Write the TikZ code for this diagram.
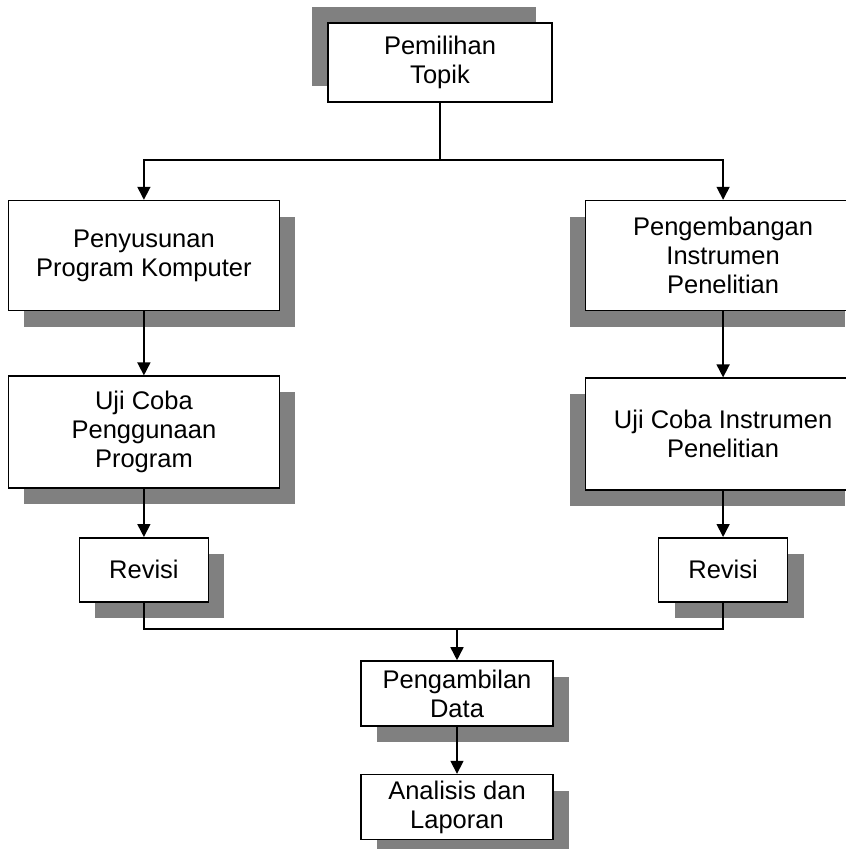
\documentclass[tikz,border=0pt]{standalone}
\usepackage{fontspec}
\setmainfont{Liberation Sans}
\usepackage{tikz}
\usetikzlibrary{arrows.meta, positioning, shadows}
\usepackage{xcolor}
\definecolor{abu}{HTML}{808080}

\begin{document}
\begin{tikzpicture}[
    tahap/.style={
        rectangle,
        draw=black,
        line width=1.6pt,
        fill=white,
        align=center,
        inner sep=2pt,
        font=\fontsize{25.5}{29}\selectfont
    },
    bayang kanan/.style={
        general shadow={fill=abu, shadow xshift=16pt, shadow yshift=-16pt}
    },
    bayang kiri/.style={
        general shadow={fill=abu, shadow xshift=-16pt, shadow yshift=-16pt}
    },
    bayang atas/.style={
        general shadow={fill=abu, shadow xshift=-16pt, shadow yshift=16pt}
    },
    panah/.style={
        -{Triangle[width=13pt, length=13pt]},
        line width=1.6pt
    },
    garis/.style={
        line width=1.6pt
    }
]

\clip (0,0) rectangle (846pt,-849pt);

% Topik
\node[tahap, bayang atas, minimum width=224pt, minimum height=79pt] (topik) at (440pt,-62.5pt) {Pemilihan\\Topik};

% Cabang kiri
\node[tahap, bayang kanan, minimum width=271pt, minimum height=110pt, below left=97pt and 47pt of topik] (susun) {Penyusunan\\Program Komputer};
\node[tahap, bayang kanan, minimum width=271pt, minimum height=112pt, below=64pt of susun] (ujiprog) {Uji Coba\\Penggunaan\\Program};
\node[tahap, bayang kanan, minimum width=129pt, minimum height=64pt, below=48pt of ujiprog] (revkiri) {Revisi};

% Cabang kanan
\node[tahap, bayang kiri, minimum width=275pt, minimum height=110pt, below right=97pt and 32pt of topik] (kembang) {Pengembangan\\Instrumen\\Penelitian};
\node[tahap, bayang kiri, minimum width=275pt, minimum height=112pt, below=66pt of kembang] (ujiinst) {Uji Coba Instrumen\\Penelitian};
\node[tahap, bayang kanan, minimum width=129pt, minimum height=64pt, below=46pt of ujiinst] (revkanan) {Revisi};

% Akhir
\node[tahap, bayang kanan, minimum width=192pt, minimum height=65pt] (ambil) at (457pt,-693.5pt) {Pengambilan\\Data};
\node[tahap, bayang kanan, minimum width=192pt, minimum height=65pt, below=47pt of ambil] (analisis) {Analisis dan\\Laporan};

% Titik cabang
\coordinate[below=57pt of topik.south] (cabang);
\coordinate[above=31pt of ambil.north] (gabung);

% Panah
\draw[panah] (topik.south) -- (cabang) -| (susun.north);
\draw[panah] (cabang) -| (kembang.north);
\draw[panah] (susun) -- (ujiprog);
\draw[panah] (ujiprog) -- (revkiri);
\draw[panah] (kembang) -- (ujiinst);
\draw[panah] (ujiinst) -- (revkanan);
\draw[garis] (revkiri.south) |- (gabung) -| (revkanan.south);
\draw[panah] (gabung) -- (ambil);
\draw[panah] (ambil) -- (analisis);

\end{tikzpicture}
\end{document}
